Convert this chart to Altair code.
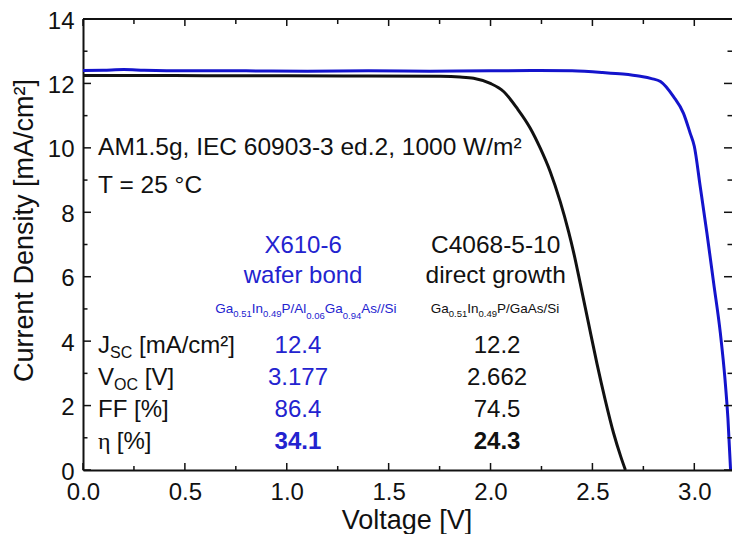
import altair as alt
import pandas as pd

# ---------------- data ----------------
# X610-6 (wafer bond) J-V curve
blue_v = [0.00, 0.10, 0.20, 0.30, 0.50, 0.80, 1.10, 1.40, 1.70, 2.00, 2.24, 2.40, 2.55, 2.65,
          2.735, 2.79, 2.834, 2.898, 2.947, 2.98, 3.00, 3.029, 3.062, 3.095, 3.128, 3.151, 3.165, 3.178]
blue_j = [12.40, 12.41, 12.43, 12.41, 12.39, 12.39, 12.38, 12.39, 12.38, 12.39, 12.40, 12.39, 12.34, 12.29,
          12.22, 12.15, 12.06, 11.59, 11.07, 10.45, 10.05, 8.80, 7.35, 5.80, 4.24, 2.79, 1.60, 0.00]
# C4068-5-10 (direct growth) J-V curve
black_v = [0.00, 0.30, 0.60, 1.00, 1.40, 1.754, 1.85, 1.917, 1.999, 2.064, 2.130, 2.195, 2.244,
           2.293, 2.342, 2.383, 2.408, 2.440, 2.481, 2.522, 2.563, 2.604, 2.640, 2.662]
black_j = [12.25, 12.25, 12.24, 12.24, 12.23, 12.22, 12.20, 12.16, 12.00, 11.75, 11.23, 10.61, 9.99,
           9.26, 8.33, 7.40, 6.75, 5.80, 4.55, 3.31, 2.17, 1.14, 0.40, 0.00]

samples = ["X610-6", "C4068-5-10"]
x_ticks = [0.0, 0.5, 1.0, 1.5, 2.0, 2.5, 3.0]
x_minor = [0.25, 0.75, 1.25, 1.75, 2.25, 2.75]
y_ticks = [0, 2, 4, 6, 8, 10, 12, 14]
y_minor = [1, 3, 5, 7, 9, 11, 13]

row_values_blue = ["12.4", "3.177", "86.4", "34.1"]
row_values_black = ["12.2", "2.662", "74.5", "24.3"]

# ---------------- layout / style ----------------
W, H = 649, 451
XMAX, YMAX = 3.185, 14
PXV = W / XMAX
PXJ = H / YMAX
SANS = "Liberation Sans"
SERIF = "Liberation Serif"
INK = "#111111"
BLUE_LINE = "#1414CC"
BLUE_TEXT = "#2323CF"

curves = pd.concat([
    pd.DataFrame({"V": blue_v, "J": blue_j, "sample": samples[0]}),
    pd.DataFrame({"V": black_v, "J": black_j, "sample": samples[1]}),
])

# Arial / Liberation Sans advance widths (1/1000 em)
AW = {' ': 278, '%': 889, '[': 278, ']': 278, '/': 278, '.': 278, ',': 278, '-': 333, '=': 584,
      '°': 400, '²': 333, 'η': 500,
      'A': 667, 'C': 722, 'D': 722, 'E': 667, 'F': 611, 'G': 778, 'I': 278, 'J': 500, 'M': 833,
      'O': 778, 'P': 667, 'S': 667, 'T': 611, 'V': 667, 'W': 944, 'X': 667,
      'a': 556, 'b': 556, 'c': 500, 'd': 556, 'e': 556, 'f': 278, 'g': 556, 'h': 556, 'i': 222,
      'l': 222, 'm': 833, 'n': 556, 'o': 556, 'r': 333, 's': 500, 't': 278, 'u': 556, 'w': 722,
      'y': 500}


def tw(s, size):
    return sum(AW.get(c, 556) for c in s) * size / 1000.0


def runs(v, j, parts, color, align="left", weight="normal"):
    """parts: (text, size, drop_px, font). Anchor (v, j) in data units."""
    total = sum(tw(t, s) for t, s, _, _ in parts)
    off = -total / 2 if align == "center" else 0.0
    out = []
    for t, s, drop, font in parts:
        lead = len(t) - len(t.lstrip(" "))
        start = off + tw(" " * lead, s)
        out.append(dict(V=v + start / PXV, J=j - drop / PXJ, text=t.lstrip(" "), size=s,
                        color=color, font=font, weight=weight))
        off += tw(t, s)
    return out


segs = []
# conditions
segs += runs(0.074, 9.78, [("AM1.5g, IEC 60903-3 ed.2, 1000 W/m²", 24.5, 0, SANS)], INK)
segs += runs(0.074, 8.60, [("T = 25 °C", 24.5, 0, SANS)], INK)
# headers
segs += runs(1.080, 6.74, [("X610-6", 24, 0, SANS)], BLUE_TEXT, "center")
segs += runs(1.080, 5.81, [("wafer bond", 24, 0, SANS)], BLUE_TEXT, "center")
segs += runs(2.025, 6.74, [("C4068-5-10", 24.5, 0, SANS)], INK, "center")
segs += runs(2.025, 5.81, [("direct growth", 24.5, 0, SANS)], INK, "center")
# structures
M, S = 13.5, 9.5
segs += runs(1.094, 4.87, [("Ga", M, 0, SANS), ("0.51", S, 4, SANS), ("In", M, 0, SANS),
                           ("0.49", S, 4, SANS), ("P/Al", M, 0, SANS), ("0.06", S, 6, SANS),
                           ("Ga", M, 0, SANS), ("0.94", S, 6, SANS), ("As//Si", M, 0, SANS)],
             BLUE_TEXT, "center")
segs += runs(2.022, 4.87, [("Ga", M, 0, SANS), ("0.51", S, 4, SANS), ("In", M, 0, SANS),
                           ("0.49", S, 4, SANS), ("P/GaAs/Si", M, 0, SANS)], INK, "center")
# row labels
row_j = [3.63, 2.64, 1.65, 0.65]
segs += runs(0.074, row_j[0], [("J", 24, 0, SANS), ("SC", 16, 5, SANS), (" [mA/cm²]", 24, 0, SANS)], INK)
segs += runs(0.074, row_j[1], [("V", 24, 0, SANS), ("OC", 16, 5, SANS), (" [V]", 24, 0, SANS)], INK)
segs += runs(0.074, row_j[2], [("FF [%]", 24, 0, SANS)], INK)
segs += runs(0.074, row_j[3], [("η", 24, 0, SERIF), (" [%]", 24, 0, SANS)], INK)
# values
for i, (b, k) in enumerate(zip(row_values_blue, row_values_black)):
    wgt = "bold" if i == 3 else "normal"
    segs += runs(1.055, row_j[i], [(b, 24, 0, SANS)], BLUE_TEXT, "center", wgt)
    segs += runs(2.032, row_j[i], [(k, 24, 0, SANS)], INK, "center", wgt)

texts = pd.DataFrame(segs)

xs = alt.Scale(domain=[0, XMAX], nice=False, zero=False)
ys = alt.Scale(domain=[0, YMAX], nice=False, zero=False)

x_main = alt.Axis(orient="bottom", values=x_ticks, format=".1f", labelFont=SANS, labelFontSize=24,
                  labelColor=INK, labelPadding=29, labelBaseline="alphabetic", labelFlush=False,
                  labelOverlap=False, ticks=False, domain=True, domainColor=INK, domainWidth=2,
                  grid=False, title="Voltage [V]", titleFont=SANS, titleFontSize=27,
                  titleFontWeight="normal", titleColor=INK, titleX=323.5, titleY=58,
                  titleBaseline="alphabetic", titleAlign="center")
y_main = alt.Axis(orient="left", values=y_ticks, format="d", labelFont=SANS, labelFontSize=24,
                  labelColor=INK, labelPadding=9, labelOffset=2, labelFlush=False,
                  labelOverlap=False, ticks=False, domain=True, domainColor=INK, domainWidth=2,
                  grid=False, title="Current Density [mA/cm²]", titleFont=SANS, titleFontSize=27,
                  titleFontWeight="normal", titleColor=INK, titleX=-51, titleY=211,
                  titleAngle=270, titleBaseline="alphabetic", titleAlign="center")

lines = alt.Chart(curves).mark_line(strokeWidth=3, interpolate="monotone").encode(
    x=alt.X("V:Q", scale=xs, axis=x_main),
    y=alt.Y("J:Q", scale=ys, axis=y_main),
    color=alt.Color("sample:N", scale=alt.Scale(domain=samples, range=[BLUE_LINE, INK]), legend=None),
    order=alt.Order("V:Q"),
)


# inward tick marks on all four sides (positions from the scales)
def xticks(values, y0, y1):
    return alt.Chart(pd.DataFrame({"V": values})).mark_rule(color=INK, strokeWidth=1.5).encode(
        x=alt.X("V:Q", scale=xs, axis=None), y=alt.value(y0), y2=alt.value(y1))


def yticks(values, x0, x1):
    return alt.Chart(pd.DataFrame({"J": values})).mark_rule(color=INK, strokeWidth=1.5).encode(
        y=alt.Y("J:Q", scale=ys, axis=None), x=alt.value(x0), x2=alt.value(x1))


tick_layers = [
    xticks(x_ticks, H, H - 7), xticks(x_minor, H, H - 4),
    xticks(x_ticks, 0, 7), xticks(x_minor, 0, 5),
    yticks(y_ticks, 0, 8), yticks(y_minor, 0, 4.5),
    yticks(y_ticks, W, W - 8), yticks(y_minor, W, W - 4.5),
]

frame_top = alt.Chart(pd.DataFrame({"V": [0.0], "V2": [XMAX], "J": [YMAX]})).mark_rule(
    color=INK, strokeWidth=2).encode(
    x=alt.X("V:Q", scale=xs, axis=None), x2="V2:Q", y=alt.Y("J:Q", scale=ys, axis=None))


def text_layer(font, weight):
    d = texts[(texts.font == font) & (texts.weight == weight)]
    return alt.Chart(d).mark_text(align="left", baseline="alphabetic", font=font,
                                  fontWeight=weight).encode(
        x=alt.X("V:Q", scale=xs, axis=None),
        y=alt.Y("J:Q", scale=ys, axis=None),
        text="text:N",
        size=alt.Size("size:Q", scale=None, legend=None),
        color=alt.Color("color:N", scale=None, legend=None),
    )


chart = alt.layer(
    lines, frame_top, *tick_layers,
    text_layer(SANS, "normal"), text_layer(SANS, "bold"), text_layer(SERIF, "normal"),
).resolve_axis(x="independent", y="independent").properties(
    width=W, height=H,
    autosize=alt.AutoSizeParams(type="none"),
    padding={"left": 75, "top": 11, "right": 0, "bottom": 64},
    background="white",
).configure_view(stroke=None)

chart.save("out.html", embed_options={"renderer": "svg", "actions": False})
